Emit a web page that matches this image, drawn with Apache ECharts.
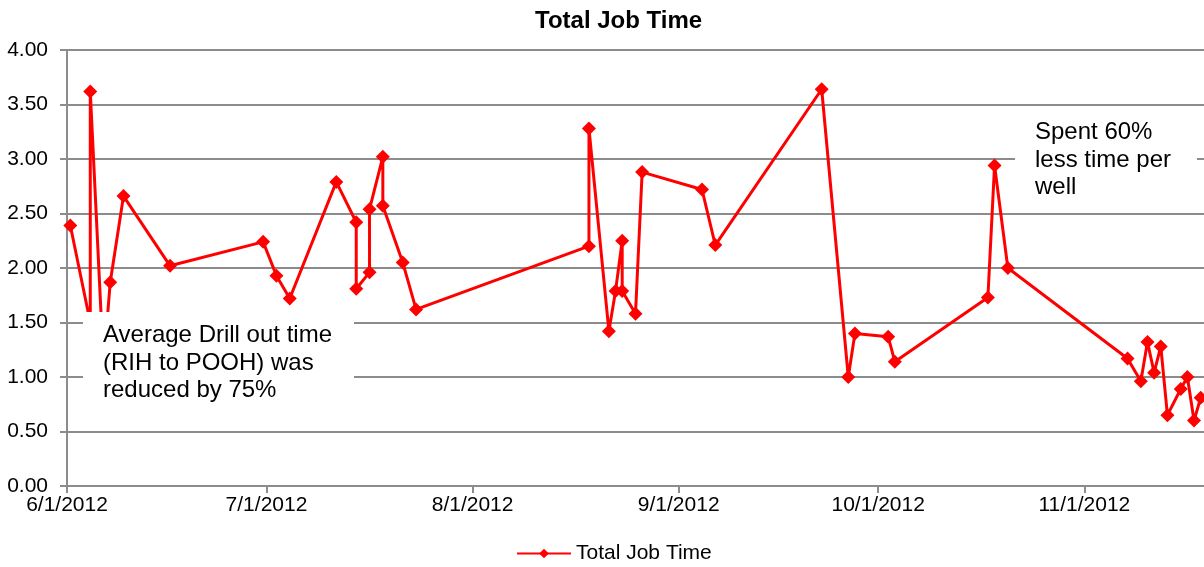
<!DOCTYPE html>
<html>
<head>
<meta charset="utf-8">
<title>Total Job Time</title>
<script src="https://cdn.jsdelivr.net/npm/echarts@6/dist/echarts.min.js"></script>
<style>
  html, body { margin: 0; padding: 0; background: #fff; }
  #main { width: 1204px; height: 567px; }
</style>
</head>
<body>
<div id="main"></div>
<script>
// job dates (2012) and total job time per job
var jobDates = ['6/1', '6/4', '6/4', '6/6', '6/7', '6/9', '6/16', '6/30', '7/2', '7/4',
  '7/11', '7/14', '7/14', '7/16', '7/16', '7/18', '7/18', '7/21', '7/23',
  '8/18', '8/18', '8/21', '8/22', '8/23', '8/23', '8/25', '8/26', '9/4', '9/6',
  '9/22', '9/26', '9/27', '10/2', '10/3', '10/17', '10/18', '10/20',
  '11/7', '11/9', '11/10', '11/11', '11/12', '11/13', '11/15', '11/16', '11/17', '11/18']
var jobTime = [2.39, 1.50, 3.62, 1.10, 1.87, 2.66, 2.02, 2.24, 1.93, 1.72,
  2.79, 2.42, 1.81, 1.96, 2.54, 3.02, 2.57, 2.05, 1.62,
  2.20, 3.28, 1.42, 1.79, 2.25, 1.79, 1.58, 2.88, 2.72, 2.21,
  3.64, 1.00, 1.40, 1.37, 1.14, 1.73, 2.94, 2.00,
  1.17, 0.96, 1.32, 1.04, 1.28, 0.65, 0.89, 1.00, 0.60, 0.81]
// x axis labels (month starts) and axis end
var monthTicks = ['6/1', '7/1', '8/1', '9/1', '10/1', '11/1']
var axisEnd = '11/19'
var yTicks = { min: 0, max: 4, step: 0.5 }

var DAY = 86400000
var base = Date.UTC(2012, 5, 1)
function dayOf(s) {
  var p = s.split('/')
  return (Date.UTC(2012, +p[0] - 1, +p[1]) - base) / DAY
}

// points sit in the middle of their day slot (like the Excel date axis)
var seriesData = []
for (var i = 0; i < jobDates.length; i++) {
  seriesData.push([dayOf(jobDates[i]) + 0.5, jobTime[i]])
}
var tickValues = monthTicks.map(dayOf)

var font = "'Liberation Sans', Arial, sans-serif"
var gray = '#8c8c8c'

var myChart = echarts.init(document.getElementById('main'))
var option = {
  animation: false,
  title: {
    text: 'Total Job Time',
    left: 530,
    top: 4,
    textStyle: { fontFamily: font, fontWeight: 'bold', fontSize: 24, color: '#000' }
  },
  legend: {
    data: ['Total Job Time'],
    left: 516,
    top: 543,
    padding: 0,
    itemWidth: 54,
    itemHeight: 12,
    itemGap: 5,
    textStyle: { fontFamily: font, fontSize: 21, color: '#000' }
  },
  grid: { left: 67, right: 0, top: 50, bottom: 81, containLabel: false },
  xAxis: {
    type: 'value',
    min: 0,
    max: dayOf(axisEnd),
    axisLine: { lineStyle: { color: gray, width: 2 } },
    axisTick: { show: true, length: 7, customValues: tickValues, lineStyle: { color: gray, width: 2 } },
    splitLine: { show: false },
    axisLabel: {
      customValues: tickValues,
      margin: 9,
      fontFamily: font,
      fontSize: 21,
      color: '#000',
      formatter: function(v) {
        var d = new Date(base + v * DAY)
        return (d.getUTCMonth() + 1) + '/' + d.getUTCDate() + '/' + d.getUTCFullYear()
      }
    }
  },
  yAxis: {
    type: 'value',
    min: yTicks.min,
    max: yTicks.max,
    interval: yTicks.step,
    axisLine: { show: true, lineStyle: { color: gray, width: 2 } },
    axisTick: { show: true, length: 7, lineStyle: { color: gray, width: 2 } },
    splitLine: { lineStyle: { color: gray, width: 2 } },
    axisLabel: {
      margin: 19,
      fontFamily: font,
      fontSize: 21,
      color: '#000',
      formatter: function(v) { return v.toFixed(2) }
    }
  },
  series: [
    {
      name: 'Total Job Time',
      type: 'line',
      data: seriesData,
      symbol: 'diamond',
      symbolSize: 14,
      lineStyle: { color: '#ff0000', width: 3 },
      itemStyle: { color: '#ff0000' }
    }
  ],
  // the two white text boxes sit on top of the plot
  graphic: [
    {
      type: 'rect', z: 100,
      shape: { x: 83, y: 312, width: 271, height: 98 },
      style: { fill: '#fff' }
    },
    {
      type: 'text', z: 101, x: 103, y: 322,
      style: {
        text: 'Average Drill out time\n(RIH to POOH) was\nreduced by 75%',
        fontFamily: font, fontSize: 24, lineHeight: 27.5, fill: '#000',
        verticalAlign: 'top'
      }
    },
    {
      type: 'rect', z: 100,
      shape: { x: 1015, y: 112, width: 182, height: 93 },
      style: { fill: '#fff' }
    },
    {
      type: 'text', z: 101, x: 1035, y: 119,
      style: {
        text: 'Spent 60%\nless time per\nwell',
        fontFamily: font, fontSize: 24, lineHeight: 27.5, fill: '#000',
        verticalAlign: 'top'
      }
    }
  ]
}
myChart.setOption(option)
</script>
</body>
</html>
